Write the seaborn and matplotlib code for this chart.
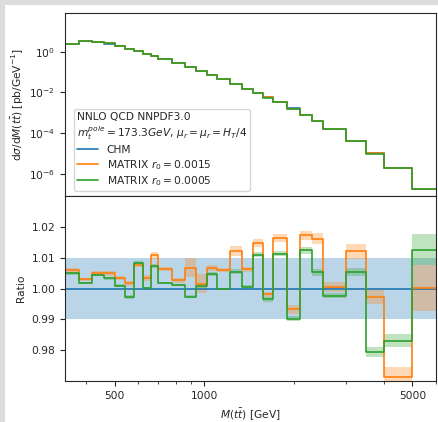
import matplotlib
matplotlib.use('Agg')
import matplotlib.pyplot as plt
import numpy as np
import pandas as pd
import seaborn as sns
from matplotlib.patches import Rectangle
from matplotlib.ticker import FormatStrFormatter, NullFormatter

# bin edges of M(tt) in GeV
bin_edges = [340, 380, 420, 460, 500, 540, 580, 620, 660, 700, 780, 860, 940, 1020, 1100,
             1220, 1340, 1460, 1580, 1700, 1900, 2100, 2300, 2500, 3000, 3500, 4000, 5000, 6000]

# CHM differential cross section [pb/GeV]
chm_xsec = [2.47, 3.47, 2.99, 2.57, 1.97, 1.46, 1.08, 0.80, 0.61, 0.436, 0.277, 0.183, 0.116,
            0.074, 0.0453, 0.0267, 0.0151, 0.0096, 0.00568, 0.00323, 0.00163, 7.98e-4,
            4.04e-4, 1.57e-4, 4.05e-5, 1.0e-5, 1.97e-6, 1.76e-7]

# MATRIX / CHM ratios
ratio_r15 = [1.0060, 1.0030, 1.0050, 1.0050, 1.0035, 1.0017, 1.0076, 1.0034, 1.0107, 1.0063,
             1.0027, 1.0068, 1.0016, 1.0067, 1.0060, 1.0121, 1.0063, 1.0147, 0.9982, 1.0164,
             0.9933, 1.0172, 1.0161, 1.0005, 1.0120, 0.9974, 0.9715, 1.0002]
err_r15 = [0.0005, 0.0005, 0.0006, 0.0008, 0.0006, 0.0008, 0.0005, 0.0010, 0.0012, 0.0006,
           0.0008, 0.0032, 0.0030, 0.0010, 0.0006, 0.0015, 0.0008, 0.0013, 0.0008, 0.0013,
           0.0015, 0.0015, 0.0018, 0.0015, 0.0023, 0.0025, 0.0033, 0.0073]

ratio_r05 = [1.0049, 1.0018, 1.0043, 1.0033, 1.0009, 0.9973, 1.0083, 1.0001, 1.0072, 1.0018,
             1.0012, 0.9974, 1.0009, 1.0046, 0.9998, 1.0054, 1.0005, 1.0110, 0.9965, 1.0112,
             0.9903, 1.0123, 1.0052, 0.9976, 1.0054, 0.9795, 0.9832, 1.0126]
err_r05 = [0.0004, 0.0004, 0.0004, 0.0004, 0.0005, 0.0006, 0.0005, 0.0005, 0.0006, 0.0004,
           0.0004, 0.0006, 0.0006, 0.0006, 0.0004, 0.0008, 0.0005, 0.0008, 0.0008, 0.0008,
           0.0009, 0.0012, 0.0012, 0.0008, 0.0012, 0.0015, 0.0022, 0.0050]

chm_err = 0.01

sns.set_style('ticks')
plt.rcParams.update({'font.size': 7.7, 'font.family': ['DejaVu Sans'],
                     'xtick.direction': 'out', 'ytick.direction': 'out'})

blue, orange, green = sns.color_palette('tab10')[:3]


def stepify(values):
    # repeat last value so steps-post reaches the final edge
    return list(values) + [values[-1]]


def band(values, errs):
    v = np.array(stepify(values))
    e = np.array(stepify(errs))
    return v - e, v + e


edges = np.array(bin_edges)
chm = np.array(chm_xsec)
frame = pd.DataFrame({
    'M': np.concatenate([edges] * 3),
    'xsec': np.concatenate([stepify(chm), stepify(chm * np.array(ratio_r15)),
                            stepify(chm * np.array(ratio_r05))]),
    'ratio': np.concatenate([stepify(np.ones(len(chm))), stepify(ratio_r15), stepify(ratio_r05)]),
    'series': ['CHM'] * len(edges) + ['MATRIX $r_0=0.0015$'] * len(edges)
              + ['MATRIX $r_0=0.0005$'] * len(edges),
})
palette = {'CHM': blue, 'MATRIX $r_0=0.0015$': orange, 'MATRIX $r_0=0.0005$': green}

fig = plt.figure(figsize=(4.39, 4.22), dpi=100)
fig.patch.set_facecolor('#dcdcdc')
fig.add_artist(Rectangle((5 / 439, 0), 1, 1 - 5 / 422, transform=fig.transFigure,
                         facecolor='white', edgecolor='none', zorder=-5))

ax_top = fig.add_axes([0.148, 0.5355, 0.845, 0.434])
ax_rat = fig.add_axes([0.148, 0.097, 0.845, 0.4385], sharex=ax_top)

# upper panel: spectra
sns.lineplot(data=frame, x='M', y='xsec', hue='series', palette=palette, drawstyle='steps-post',
             linewidth=1.2, ax=ax_top, legend=False)
for name, col in palette.items():
    ax_top.plot([], [], color=col, lw=1.2, label=name)
ax_top.set_xscale('log')
ax_top.set_yscale('log')
ax_top.set_ylim(8e-8, 83)
ax_top.set_yticks([1e0, 1e-2, 1e-4, 1e-6])
ax_top.yaxis.set_minor_locator(matplotlib.ticker.NullLocator())
ax_top.set_ylabel(r'd$\sigma$/d$M(t\bar{t})$ [pb/GeV$^{-1}$]', labelpad=2)
ax_top.set_xlabel('')
ax_top.tick_params(labelbottom=False)
leg = ax_top.legend(title='NNLO QCD NNPDF3.0\n' + r'$m_t^{pole}=173.3GeV$, $\mu_r=\mu_r=H_T/4$',
                    loc='lower left', alignment='left', fontsize=7.7, title_fontsize=7.7,
                    handlelength=2.0, borderpad=0.25, labelspacing=0.25,
                    bbox_to_anchor=(0.01, 0.0))

# lower panel: ratios
ax_rat.fill_between(edges, 1 - chm_err, 1 + chm_err, color=blue, alpha=0.3, lw=0)
lo, hi = band(ratio_r15, err_r15)
ax_rat.fill_between(edges, lo, hi, step='post', color=orange, alpha=0.3, lw=0)
lo, hi = band(ratio_r05, err_r05)
ax_rat.fill_between(edges, lo, hi, step='post', color=green, alpha=0.3, lw=0)
sns.lineplot(data=frame, x='M', y='ratio', hue='series', palette=palette, drawstyle='steps-post',
             linewidth=1.2, ax=ax_rat, legend=False)
ax_rat.set_ylim(0.9701, 1.0299)
ax_rat.set_yticks([0.98, 0.99, 1.00, 1.01, 1.02])
ax_rat.yaxis.set_major_formatter(FormatStrFormatter('%.2f'))
ax_rat.set_ylabel('Ratio')
ax_rat.set_xlim(340, 6000)
ax_rat.set_xticks([500, 1000, 5000], labels=['500', '1000', '5000'])
ax_rat.xaxis.set_minor_formatter(NullFormatter())
ax_rat.set_xlabel(r'$M(t\bar{t})$ [GeV]')

for ax in (ax_top, ax_rat):
    for sp in ax.spines.values():
        sp.set_visible(True)
        sp.set_color('#262626')

fig.savefig('out.png', dpi=100, facecolor=fig.get_facecolor())
